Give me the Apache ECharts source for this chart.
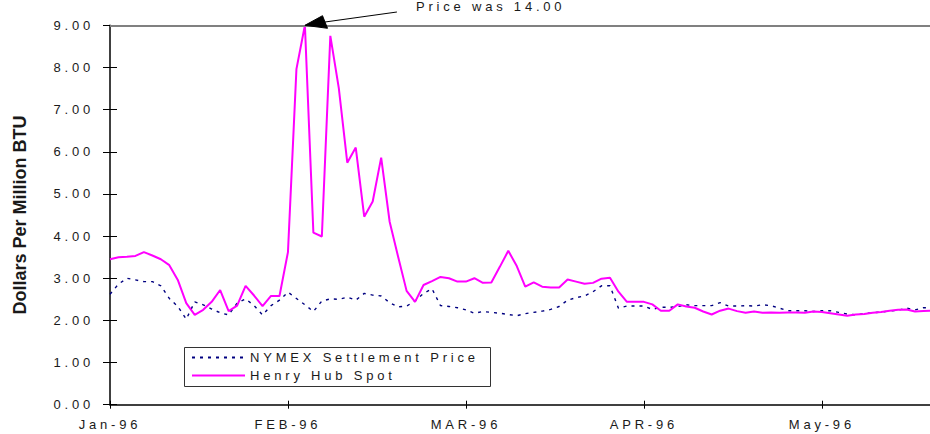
<!DOCTYPE html>
<html><head><meta charset="utf-8">
<script src="https://cdn.jsdelivr.net/npm/echarts@6/dist/echarts.min.js"></script>
<style>
html,body{margin:0;padding:0;background:#fff;}
#chart{width:930px;height:434px;}
#chart text{letter-spacing:3.8px;}
#chart text[style*="bold"]{letter-spacing:0;}
</style></head><body><div id="chart"></div>
<script>
// Month tick labels (21 trading days per month on the axis)
const monthLabels = ['Jan-96', 'FEB-96', 'MAR-96', 'APR-96', 'May-96'];
const tradingDaysPerMonth = 21;
const yTickValues = [0, 1, 2, 3, 4, 5, 6, 7, 8, 9];

// Daily prices, $/MMBtu (Henry Hub peak shown capped at the axis top; actual 14.00)
const henryHub = [
  3.45, 3.50, 3.51, 3.53, 3.62, 3.54, 3.45, 3.31, 2.96, 2.41,
  2.13, 2.25, 2.44, 2.72, 2.22, 2.35, 2.82, 2.59, 2.34, 2.58,
  2.58, 3.62, 7.96, 9.00, 4.08, 3.99, 8.75, 7.51, 5.74, 6.10,
  4.46, 4.82, 5.86, 4.34, 3.51, 2.70, 2.44, 2.84, 2.93, 3.03,
  3.00, 2.92, 2.92, 3.00, 2.89, 2.90, 3.27, 3.65, 3.29, 2.80,
  2.90, 2.80, 2.78, 2.78, 2.97, 2.92, 2.87, 2.89, 2.99, 3.01,
  2.68, 2.44, 2.44, 2.44, 2.38, 2.23, 2.23, 2.38, 2.33, 2.30,
  2.21, 2.14, 2.23, 2.28, 2.22, 2.18, 2.21, 2.18, 2.19, 2.18,
  2.19, 2.19, 2.18, 2.21, 2.20, 2.17, 2.14, 2.11, 2.14, 2.15,
  2.18, 2.20, 2.23, 2.25, 2.26, 2.21, 2.22, 2.23
];
const nymex = [
  2.62, 2.86, 3.00, 2.96, 2.92, 2.92, 2.82, 2.52, 2.33, 2.03,
  2.44, 2.37, 2.27, 2.18, 2.13, 2.41, 2.51, 2.35, 2.13, 2.35,
  2.48, 2.67, 2.52, 2.37, 2.21, 2.46, 2.51, 2.50, 2.55, 2.48,
  2.64, 2.60, 2.58, 2.42, 2.32, 2.34, 2.46, 2.64, 2.75, 2.35,
  2.33, 2.30, 2.25, 2.17, 2.21, 2.19, 2.17, 2.14, 2.11, 2.16,
  2.19, 2.22, 2.26, 2.33, 2.48, 2.54, 2.58, 2.68, 2.82, 2.82,
  2.29, 2.34, 2.34, 2.34, 2.26, 2.31, 2.31, 2.33, 2.37, 2.35,
  2.35, 2.35, 2.42, 2.34, 2.34, 2.35, 2.34, 2.37, 2.35, 2.29,
  2.23, 2.23, 2.23, 2.21, 2.23, 2.23, 2.19, 2.15, 2.13, 2.16,
  2.18, 2.20, 2.22, 2.24, 2.29, 2.25, 2.30, 2.30
];
const seriesNames = ['NYMEX Settlement Price', 'Henry Hub Spot'];
const peakNote = 'Price was 14.00';
const peakIndex = 23;

const font = '"Liberation Sans", Arial, sans-serif';
const textColor = '#1a1a1a';
const chart = echarts.init(document.getElementById('chart'), null, {renderer: 'svg'});
const xMax = henryHub.length - 1;
const yMax = yTickValues[yTickValues.length - 1];

const option = {
  animation: false,
  backgroundColor: '#fff',
  grid: {left: 110, right: -2, top: 25.3, bottom: 29.3, containLabel: false, outerBoundsMode: 'none'},
  xAxis: [{
    type: 'value', min: 0, max: xMax, interval: tradingDaysPerMonth,
    axisLine: {lineStyle: {color: '#000', width: 1.5}},
    axisTick: {length: 4, lineStyle: {color: '#000', width: 1}},
    axisLabel: {
      formatter: v => (v % tradingDaysPerMonth === 0 && monthLabels[v / tradingDaysPerMonth]) || '',
      color: textColor, fontSize: 13, fontFamily: font, margin: 13, showMaxLabel: false
    },
    splitLine: {show: false}
  }, {
    type: 'value', min: 0, max: xMax, interval: tradingDaysPerMonth, position: 'bottom',
    axisLine: {show: false},
    axisTick: {inside: true, length: 4, lineStyle: {color: '#000', width: 1}},
    axisLabel: {show: false}, splitLine: {show: false}
  }],
  yAxis: [{
    type: 'value', min: 0, max: yMax, interval: 1,
    name: 'Dollars Per Million BTU', nameLocation: 'middle', nameGap: 81,
    nameTextStyle: {fontSize: 18, fontWeight: 'bold', fontFamily: font, color: textColor},
    axisLine: {show: true, lineStyle: {color: '#000', width: 1.5}},
    axisTick: {show: true, length: 7, lineStyle: {color: '#000', width: 1}},
    axisLabel: {formatter: v => v.toFixed(2), color: textColor, fontSize: 13, fontFamily: font, margin: 16},
    splitLine: {show: false}
  }, {
    type: 'value', min: 0, max: yMax, interval: 1, position: 'left',
    axisLine: {show: false},
    axisTick: {show: true, inside: true, length: 7, lineStyle: {color: '#000', width: 1}},
    axisLabel: {show: false}, splitLine: {show: false}
  }],
  legend: {
    orient: 'vertical', left: 191, top: 351, padding: 0,
    itemWidth: 53, itemHeight: 10, itemGap: 5,
    itemStyle: {opacity: 0},
    textStyle: {fontSize: 13, fontFamily: font, color: textColor},
    data: seriesNames
  },
  series: [{
    name: seriesNames[0], type: 'line', symbol: 'none', clip: false,
    data: nymex.map((v, i) => [i, v]),
    lineStyle: {color: '#000080', width: 1.4, type: [3, 5]},
    itemStyle: {color: '#000080'},
    markLine: {
      silent: true, symbol: ['none', 'none'], label: {show: false},
      lineStyle: {color: '#808080', width: 2, type: 'solid'},
      data: [{yAxis: yMax}]
    },
    z: 3
  }, {
    name: seriesNames[1], type: 'line', symbol: 'none', clip: false,
    data: henryHub.map((v, i) => [i, v]),
    lineStyle: {color: '#ff00ff', width: 2},
    itemStyle: {color: '#ff00ff'},
    z: 4
  }],
  graphic: [{
    id: 'legendBox', type: 'rect', left: 184, top: 347, z: 0,
    shape: {width: 306, height: 39},
    style: {fill: '#fff', stroke: '#333', lineWidth: 1}
  }]
};
chart.setOption(option);

// Annotation arrow anchored on the capped peak data point
const tip = chart.convertToPixel({xAxisIndex: 0, yAxisIndex: 0}, [peakIndex, henryHub[peakIndex]]);
chart.setOption({
  graphic: [{
    id: 'arrowLine', type: 'line', z: 10,
    shape: {x1: tip[0] + 92, y1: tip[1] - 13.3, x2: tip[0] + 18, y2: tip[1] - 3},
    style: {stroke: '#000', lineWidth: 1}
  }, {
    id: 'arrowHead', type: 'polygon', z: 10,
    shape: {points: [[tip[0], tip[1]], [tip[0] + 17.6, tip[1] - 9.6], [tip[0] + 22.6, tip[1] + 3]]},
    style: {fill: '#000', stroke: '#000'}
  }, {
    id: 'arrowText', type: 'text', z: 10,
    x: tip[0] + 111, y: tip[1] - 18.8,
    style: {text: peakNote, fontSize: 13, fontFamily: font, fill: textColor, verticalAlign: 'middle', align: 'left'}
  }]
});
</script></body></html>
